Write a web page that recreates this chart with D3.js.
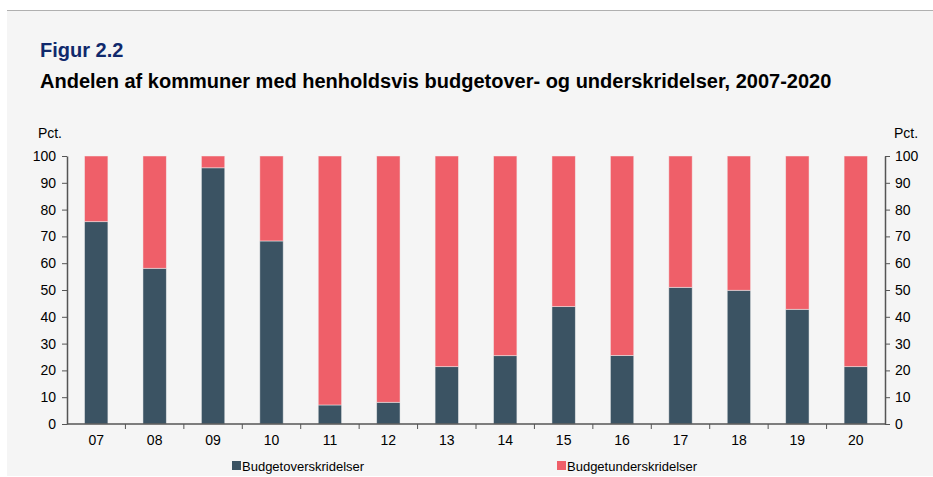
<!DOCTYPE html>
<html lang="da">
<head>
<meta charset="utf-8" />
<title>Figur 2.2</title>
<script src="https://d3js.org/d3.v7.min.js"></script>
<style>
  body { margin: 0; background: #fff; }
  svg { display: block; font-family: "Liberation Sans", Arial, sans-serif; }
  .axis text { font-size: 14px; fill: #000; font-family: "Liberation Sans", Arial, sans-serif; }
  .axis path, .axis line { stroke: #555; }
</style>
</head>
<body>
<svg width="933" height="477"></svg>
<script>
// years (2007-2020), shown as two digits
var years = ["07", "08", "09", "10", "11", "12", "13", "14", "15", "16", "17", "18", "19", "20"];
// share of municipalities with budget overruns (pct.)
var overskridelser = [75.5, 58.1, 95.6, 68.3, 7.1, 8.1, 21.4, 25.5, 43.8, 25.6, 51.0, 49.9, 42.8, 21.4];
// share of municipalities with budget underruns (pct.)
var underskridelser = [24.5, 41.9, 4.4, 31.7, 92.9, 91.9, 78.6, 74.5, 56.2, 74.4, 49.0, 50.1, 57.2, 78.6];
var seriesNames = ["Budgetoverskridelser", "Budgetunderskridelser"];
var yTicks = [0, 10, 20, 30, 40, 50, 60, 70, 80, 90, 100];

var colors = ["#3b5363", "#ef5f69"];

var svg = d3.select("svg");

// panel background + top rule
svg.append("rect").attr("x", 7).attr("y", 10).attr("width", 926).attr("height", 466).attr("fill", "#f5f5f5");
svg.append("line").attr("x1", 7).attr("x2", 933).attr("y1", 10.5).attr("y2", 10.5).attr("stroke", "#b0b0b0");

svg.append("text").attr("x", 40).attr("y", 57).attr("font-size", "20px").attr("font-weight", "bold")
  .attr("fill", "#10296c").text("Figur 2.2");
svg.append("text").attr("x", 40).attr("y", 88).attr("font-size", "20px").attr("font-weight", "bold")
  .attr("fill", "#000").text("Andelen af kommuner med henholdsvis budgetover- og underskridelser, 2007-2020");

var plotLeft = 67, plotRight = 885, plotTop = 156, plotBottom = 424;

var x = d3.scaleBand().domain(years).range([plotLeft, plotRight]).paddingInner(0.6).paddingOuter(0.3);
var xb = d3.scaleBand().domain(years).range([plotLeft, plotRight]);
var y = d3.scaleLinear().domain([0, 100]).range([plotBottom, plotTop]);

// stacked data
var rows = years.map(function (yr, i) {
  return { year: yr, over: overskridelser[i], under: underskridelser[i] };
});
var stack = d3.stack().keys(["over", "under"])(rows);

svg.append("g").selectAll("g")
  .data(stack).enter().append("g")
  .attr("fill", function (d, i) { return colors[i]; })
  .selectAll("rect")
  .data(function (d) { return d; })
  .enter().append("rect")
  .attr("x", function (d) { return x(d.data.year); })
  .attr("width", x.bandwidth())
  .attr("y", function (d) { return y(d[1]); })
  .attr("height", function (d) { return y(d[0]) - y(d[1]); })
  .attr("stroke", "#f4f4f4")
  .attr("stroke-opacity", 0.6)
  .attr("stroke-width", 0.8);

// left axis
svg.append("g").attr("class", "axis").attr("transform", "translate(" + plotLeft + ",0)")
  .call(d3.axisLeft(y).tickValues(yTicks).tickSize(5).tickSizeOuter(0).tickPadding(6))
  .call(function (g) { g.select(".domain").attr("stroke-width", 1.5); });

// right axis
svg.append("g").attr("class", "axis").attr("transform", "translate(" + plotRight + ",0)")
  .call(d3.axisRight(y).tickValues(yTicks).tickSize(5).tickSizeOuter(0).tickPadding(5))
  .call(function (g) { g.select(".domain").attr("stroke-width", 1.5); });

// bottom axis: ticks between categories
var xg = svg.append("g").attr("class", "axis").attr("transform", "translate(0," + plotBottom + ")");
xg.append("line").attr("x1", plotLeft).attr("x2", plotRight).attr("stroke", "#555").attr("stroke-width", 1.5);
xg.selectAll("line.tick").data(years.slice(1)).enter().append("line")
  .attr("class", "tick")
  .attr("x1", function (d) { return xb(d); }).attr("x2", function (d) { return xb(d); })
  .attr("y1", 0).attr("y2", 5);
xg.selectAll("text").data(years).enter().append("text")
  .attr("x", function (d) { return xb(d) + xb.bandwidth() / 2; })
  .attr("y", 21).attr("text-anchor", "middle").text(function (d) { return d; });

// unit labels
svg.append("text").attr("x", 62).attr("y", 138).attr("text-anchor", "end").attr("font-size", "14px").text("Pct.");
svg.append("text").attr("x", 894).attr("y", 138).attr("font-size", "14px").text("Pct.");

// legend
var legX = [232, 557];
var leg = svg.append("g").selectAll("g").data(seriesNames).enter().append("g")
  .attr("transform", function (d, i) { return "translate(" + legX[i] + ",461)"; });
leg.append("rect").attr("width", 9).attr("height", 9).attr("fill", function (d, i) { return colors[i]; });
leg.append("text").attr("x", 10).attr("y", 9.5).attr("font-size", "13px").text(function (d) { return d; });
</script>
</body>
</html>
